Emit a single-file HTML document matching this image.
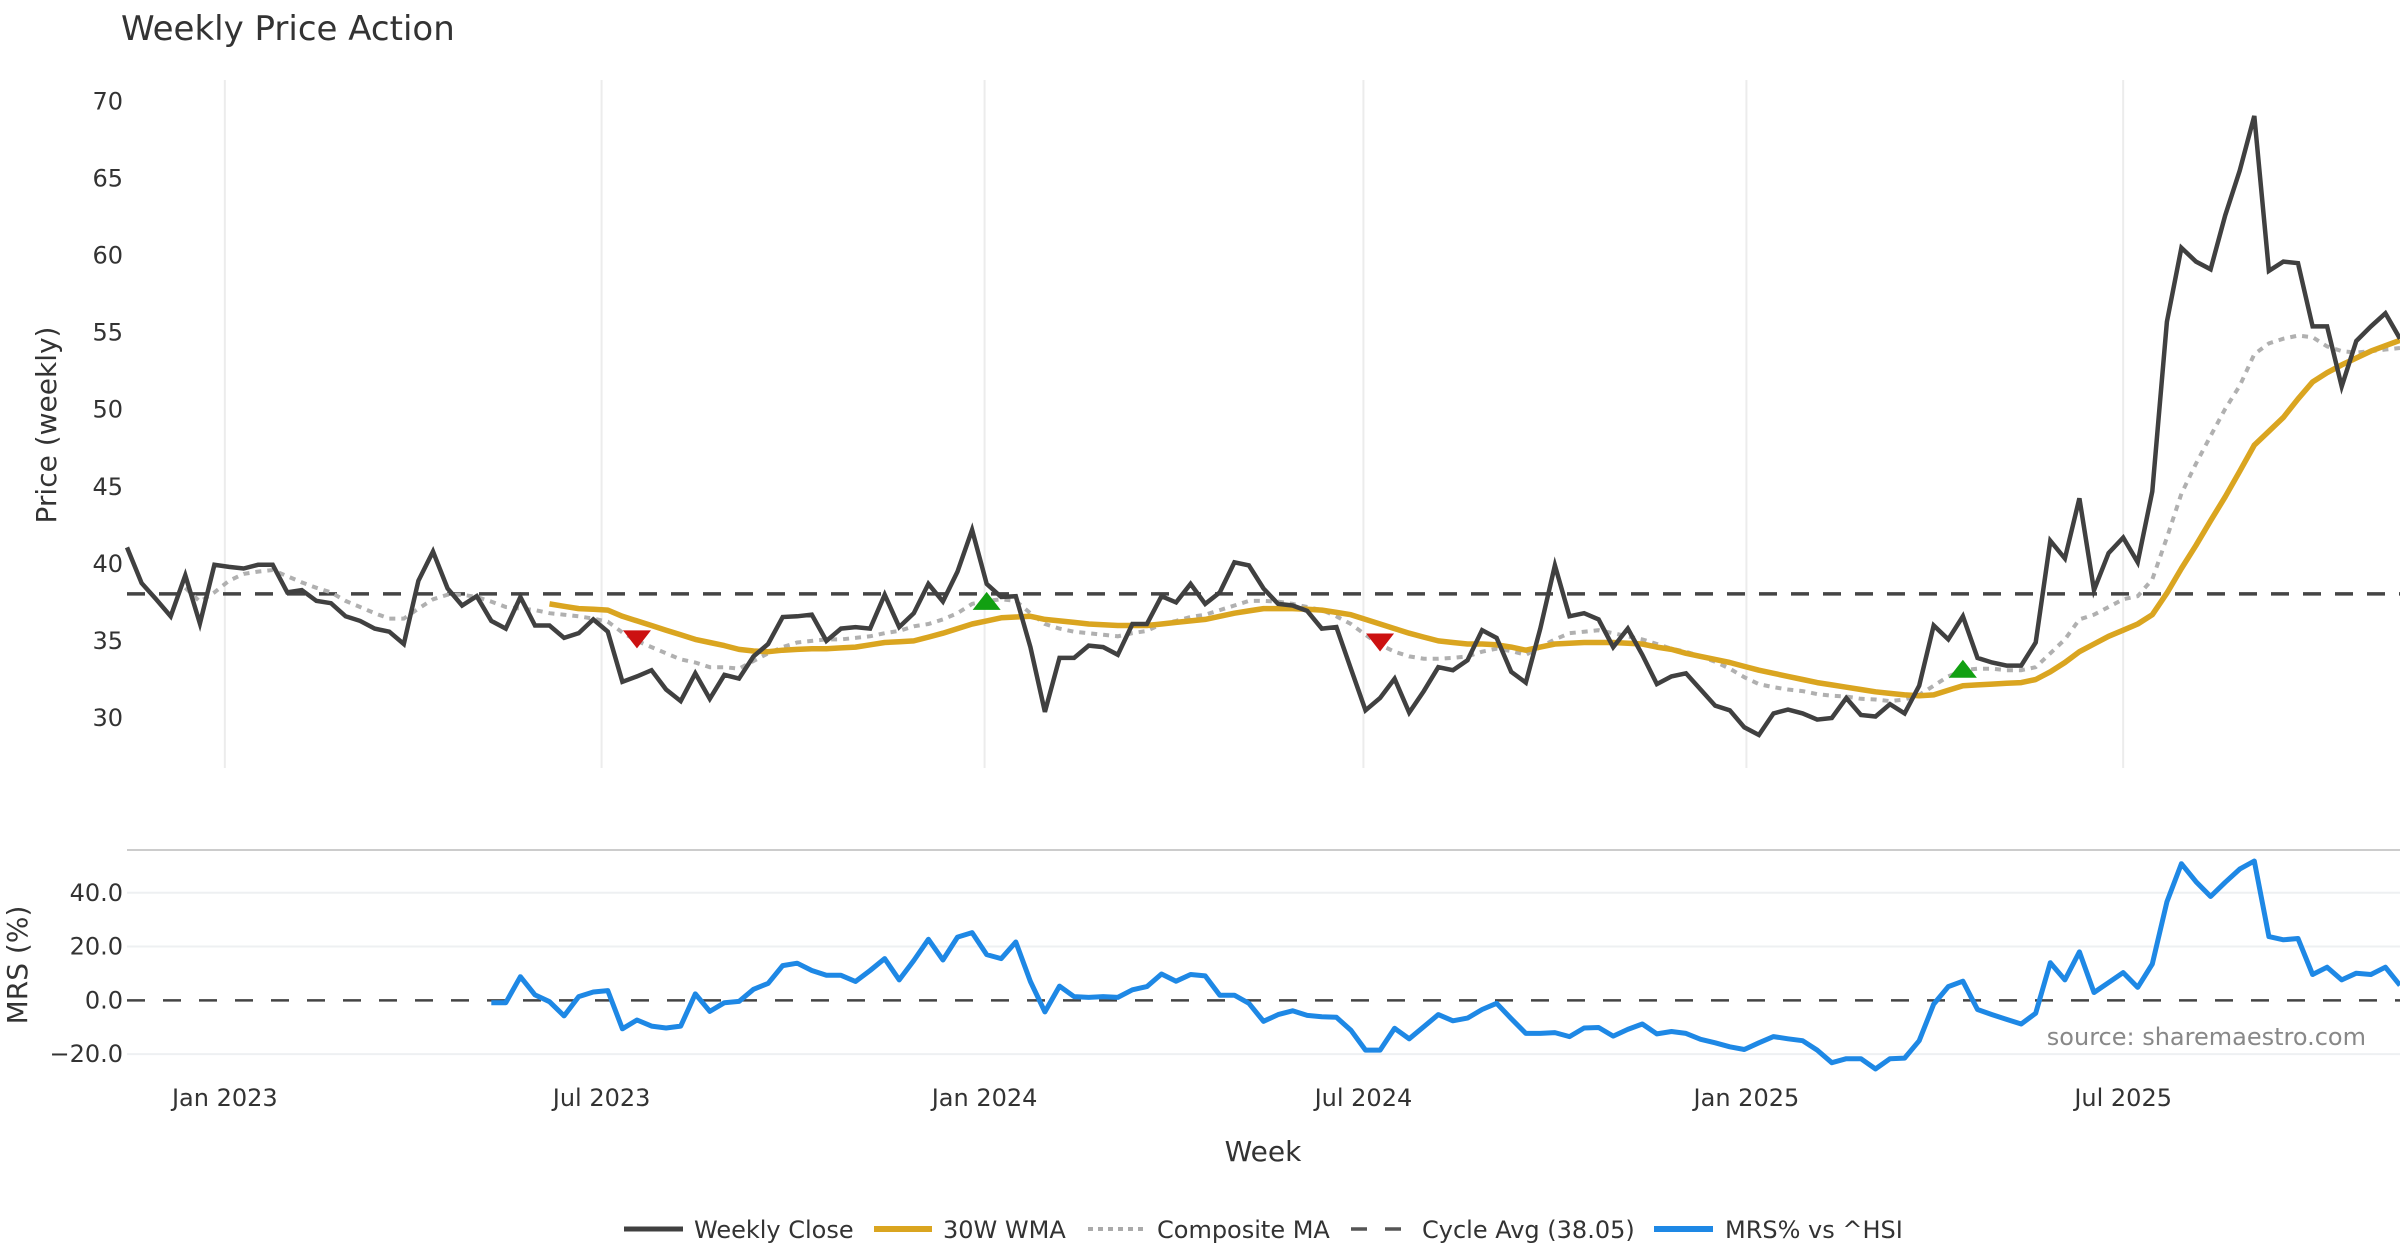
<!DOCTYPE html>
<html><head><meta charset="utf-8"><title>Weekly Price Action</title>
<style>
html,body{margin:0;padding:0;background:#fff;}
svg{display:block;font-family:"DejaVu Sans","Liberation Sans",sans-serif;}
</style></head>
<body>
<svg id="chart" width="2400" height="1260" viewBox="0 0 2400 1260" xmlns="http://www.w3.org/2000/svg">
<rect x="0" y="0" width="2400" height="1260" fill="#fff"/>
<text x="121" y="40" font-size="34" fill="#333">Weekly Price Action</text>
<g id="upper"></g>
<g id="lower"></g>
<text transform="translate(56,425) rotate(-90)" text-anchor="middle" font-size="28" fill="#333">Price (weekly)</text>
<text transform="translate(27,965) rotate(-90)" text-anchor="middle" font-size="28" fill="#333">MRS (%)</text>
<text x="1263" y="1161" text-anchor="middle" font-size="28" fill="#333">Week</text>
<text x="2366" y="1045" text-anchor="end" font-size="24" fill="#888">source: sharemaestro.com</text>
<g id="legend">
  <g>
    <line x1="624" y1="1229" x2="683" y2="1229" stroke="#404040" stroke-width="5"/>
    <text x="694" y="1238" font-size="24" fill="#333">Weekly Close</text>
  </g>
  <g>
    <line x1="874" y1="1229" x2="932" y2="1229" stroke="#DAA520" stroke-width="6"/>
    <text x="943" y="1238" font-size="24" fill="#333">30W WMA</text>
  </g>
  <g>
    <line x1="1088" y1="1229" x2="1143" y2="1229" stroke="#aaa" stroke-width="4" stroke-dasharray="5,5"/>
    <text x="1157" y="1238" font-size="24" fill="#333">Composite MA</text>
  </g>
  <g>
    <line x1="1351" y1="1229" x2="1404" y2="1229" stroke="#555" stroke-width="3.5" stroke-dasharray="16,18"/>
    <text x="1422" y="1238" font-size="24" fill="#333">Cycle Avg (38.05)</text>
  </g>
  <g>
    <line x1="1654" y1="1229" x2="1713" y2="1229" stroke="#1E88E5" stroke-width="6"/>
    <text x="1725" y="1238" font-size="24" fill="#333">MRS% vs ^HSI</text>
  </g>
</g>
</svg>
<script>
// ---- data ----
const startDate = "2022-11-15";
const closeValues = [41.07,38.75,37.7,36.6,39.26,36.13,39.94,39.8,39.7,39.94,39.94,38.15,38.3,37.6,37.45,36.6,36.3,35.8,35.6,34.8,38.9,40.8,38.4,37.3,37.9,36.3,35.8,37.85,36.0,36.0,35.2,35.5,36.4,35.6,32.35,32.7,33.1,31.85,31.1,32.9,31.25,32.8,32.56,34.0,34.8,36.55,36.6,36.7,35.0,35.8,35.9,35.8,38.0,35.9,36.8,38.7,37.56,39.5,42.2,38.7,37.85,37.9,34.6,30.4,33.9,33.9,34.7,34.6,34.1,36.1,36.1,37.9,37.5,38.7,37.4,38.15,40.1,39.9,38.4,37.4,37.3,36.95,35.8,35.9,33.2,30.5,31.3,32.55,30.35,31.75,33.3,33.1,33.75,35.7,35.2,33.0,32.3,35.8,39.9,36.6,36.8,36.4,34.6,35.8,34.1,32.2,32.7,32.9,31.85,30.8,30.5,29.4,28.9,30.3,30.55,30.3,29.9,30.0,31.3,30.2,30.1,30.9,30.3,32.1,36.0,35.1,36.6,33.9,33.6,33.4,33.4,34.9,41.5,40.35,44.25,38.3,40.7,41.7,40.1,44.7,55.7,60.5,59.6,59.1,62.6,65.5,69.05,59.0,59.6,59.5,55.4,55.4,51.5,54.45,55.4,56.25,54.6];
const wmaStart = 29;
const wmaValues = [37.4,37.25,37.1,37.05,37.0,36.6,36.3,36.0,35.7,35.4,35.1,34.9,34.7,34.45,34.35,34.3,34.4,34.45,34.5,34.5,34.55,34.6,34.75,34.9,34.95,35.0,35.25,35.5,35.8,36.1,36.3,36.5,36.55,36.6,36.4,36.3,36.2,36.1,36.05,36.0,36.0,36.0,36.1,36.2,36.3,36.4,36.6,36.8,36.95,37.1,37.1,37.1,37.05,37.0,36.85,36.7,36.4,36.1,35.8,35.5,35.25,35.0,34.9,34.8,34.8,34.75,34.6,34.4,34.6,34.8,34.85,34.9,34.9,34.9,34.85,34.8,34.6,34.45,34.2,34.0,33.8,33.6,33.35,33.1,32.9,32.7,32.5,32.3,32.15,32.0,31.85,31.7,31.6,31.5,31.45,31.5,31.8,32.1,32.15,32.2,32.25,32.3,32.5,33.0,33.6,34.3,34.8,35.3,35.7,36.1,36.7,38.1,39.7,41.2,42.8,44.35,46.0,47.7,48.6,49.5,50.7,51.8,52.4,52.9,53.35,53.8,54.15,54.5];
const compStart = 4;
const compValues = [38.45,37.55,38.15,38.9,39.35,39.5,39.6,39.2,38.8,38.45,38.15,37.6,37.2,36.8,36.45,36.45,37.1,37.7,38.0,38.0,37.85,37.55,37.2,37.1,37.0,36.8,36.7,36.6,36.45,36.25,35.55,35.0,34.6,34.2,33.8,33.6,33.3,33.3,33.2,33.7,34.2,34.6,34.9,35.0,35.1,35.1,35.2,35.3,35.5,35.65,35.95,36.1,36.4,36.8,37.4,37.6,37.7,37.6,36.8,36.1,35.8,35.6,35.5,35.4,35.3,35.5,35.65,36.1,36.3,36.55,36.7,37.0,37.3,37.6,37.6,37.55,37.4,37.2,37.0,36.6,36.1,35.4,34.75,34.3,34.0,33.85,33.85,33.9,34.0,34.3,34.5,34.35,34.1,34.6,35.1,35.5,35.6,35.7,35.5,35.3,35.1,34.8,34.5,34.3,34.0,33.65,33.2,32.65,32.2,32.0,31.85,31.75,31.55,31.45,31.4,31.25,31.2,31.1,31.2,31.5,32.1,32.7,33.1,33.2,33.2,33.1,33.1,33.3,34.2,35.1,36.4,36.7,37.2,37.7,37.9,39.0,41.7,44.55,46.5,48.3,50.05,51.55,53.6,54.3,54.6,54.8,54.7,54.1,53.8,53.7,53.8,53.9,54.0];
const cycleAvg = 38.05;
const mrsStart = 25;
const mrsValues = [-0.9,-0.9,8.8,2.0,-0.5,-5.8,1.4,3.1,3.6,-10.6,-7.3,-9.6,-10.3,-9.6,2.4,-4.1,-0.9,-0.4,4.1,6.3,12.9,13.8,11.1,9.3,9.3,7.0,11.1,15.5,7.6,14.8,22.7,15.0,23.5,25.2,17.0,15.5,21.7,7.0,-4.3,5.3,1.4,1.1,1.4,1.1,3.9,5.1,9.8,7.1,9.6,9.1,1.9,1.9,-1.1,-7.8,-5.3,-3.9,-5.6,-6.1,-6.3,-11.1,-18.5,-18.5,-10.4,-14.3,-9.8,-5.3,-7.6,-6.6,-3.4,-1.1,-6.8,-12.3,-12.3,-12.0,-13.5,-10.3,-10.1,-13.3,-10.8,-8.8,-12.5,-11.6,-12.3,-14.5,-15.8,-17.3,-18.3,-15.8,-13.5,-14.3,-15.0,-18.5,-23.2,-21.7,-21.7,-25.5,-21.7,-21.5,-15.0,-1.4,5.1,7.1,-3.4,-5.3,-7.1,-8.8,-4.8,14.0,7.6,18.0,2.9,6.6,10.3,4.8,13.5,36.6,50.8,44.1,38.6,43.9,48.8,51.8,23.7,22.5,23.0,9.6,12.3,7.6,10.1,9.6,12.3,5.6];
const signalWeeks = [35,59,86,126];
const signalTypes = ["sell","buy","sell","buy"];
const signalValues = [35.1,37.6,34.9,33.2];
const priceTicks = [30,35,40,45,50,55,60,65,70];
const mrsTicks = [-20,0,20,40];
const mrsTickLabels = ["\u221220.0","0.0","20.0","40.0"];
const dateTicks = ["2023-01-01","2023-07-01","2024-01-01","2024-07-01","2025-01-01","2025-07-01"];
const dateTickLabels = ["Jan 2023","Jul 2023","Jan 2024","Jul 2024","Jan 2025","Jul 2025"];

// ---- layout / scales ----
const NS = "http://www.w3.org/2000/svg";
const X0 = 127, X1 = 2400;
const N = closeValues.length;
const step = (X1 - X0) / (N - 1);
function xOf(i){ return X0 + step * i; }
function xDate(d){ const days = (new Date(d) - new Date(startDate)) / 86400000; return xOf(days / 7); }
const UP_TOP = 80, UP_BOT = 768, P_MIN = 26.76, P_MAX = 71.38;
function yP(v){ return UP_BOT - (v - P_MIN) / (P_MAX - P_MIN) * (UP_BOT - UP_TOP); }
const LO_TOP = 850, LO_BOT = 1081, M_MIN = -30, M_MAX = 55.9;
function yM(v){ return LO_BOT - (v - M_MIN) / (M_MAX - M_MIN) * (LO_BOT - LO_TOP); }

function mk(tag, attrs, parent){
  const el = document.createElementNS(NS, tag);
  for (const k in attrs) el.setAttribute(k, attrs[k]);
  parent.appendChild(el);
  return el;
}
const up = document.getElementById("upper");
const lo = document.getElementById("lower");

// upper grid (vertical date lines)
dateTicks.forEach(function(d, k){
  const x = xDate(d);
  const g = mk("line", {x1:x, y1:UP_TOP, x2:x, y2:UP_BOT, stroke:"#ececec", "stroke-width":2}, up);
  
  
  const t = mk("text", {x:x, y:1106, "text-anchor":"middle", "font-size":24, fill:"#333"}, lo);
  t.textContent = dateTickLabels[k];
  
  
});
// price ticks
priceTicks.forEach(function(v){
  const t = mk("text", {x:123, y:yP(v) + 8, "text-anchor":"end", "font-size":24, fill:"#333"}, up);
  t.textContent = String(v);
  
  
});
// cycle avg line
const cyc = mk("line", {x1:X0, y1:yP(cycleAvg), x2:X1, y2:yP(cycleAvg), stroke:"#444", "stroke-width":3.5, "stroke-dasharray":"18,14"}, up);



function pathFrom(vals, start, yf){
  let d = "";
  vals.forEach(function(v, j){ d += (j ? "L" : "M") + xOf(start + j).toFixed(1) + "," + yf(v).toFixed(1); });
  return d;
}
const comp = mk("path", {d:pathFrom(compValues, compStart, yP), fill:"none", stroke:"#b0b0b0", "stroke-width":4, "stroke-dasharray":"6,6"}, up);


const wma = mk("path", {d:pathFrom(wmaValues, wmaStart, yP), fill:"none", stroke:"#DAA520", "stroke-width":5.5, "stroke-linejoin":"round"}, up);


const close = mk("path", {d:pathFrom(closeValues, 0, yP), fill:"none", stroke:"#404040", "stroke-width":4.5, "stroke-linejoin":"miter"}, up);



signalWeeks.forEach(function(w, k){
  const x = xOf(w), y = yP(signalValues[k]);
  const pts = signalTypes[k] === "buy"
    ? (x-14)+","+(y+9)+" "+(x+14)+","+(y+9)+" "+x+","+(y-9)
    : (x-14)+","+(y-9)+" "+(x+14)+","+(y-9)+" "+x+","+(y+9);
  const m = mk("polygon", {points:pts, fill: signalTypes[k] === "buy" ? "#12A012" : "#CC1111"}, up);
  
  
});

// lower panel
const topLine = mk("line", {x1:X0, y1:LO_TOP, x2:X1, y2:LO_TOP, stroke:"#cccccc", "stroke-width":2}, lo);


mrsTicks.forEach(function(v, k){
  const y = yM(v);
  if (v !== 0) {
    const g = mk("line", {x1:X0, y1:y, x2:X1, y2:y, stroke:"#eef0f2", "stroke-width":2}, lo);
    
    
  }
  const t = mk("text", {x:123, y:y + 8, "text-anchor":"end", "font-size":24, fill:"#333"}, lo);
  t.textContent = mrsTickLabels[k];
  
  
});
const zero = mk("line", {x1:X0, y1:yM(0), x2:X1, y2:yM(0), stroke:"#444", "stroke-width":2.5, "stroke-dasharray":"18,18"}, lo);


const mrs = mk("path", {d:pathFrom(mrsValues, mrsStart, yM), fill:"none", stroke:"#1E88E5", "stroke-width":5, "stroke-linejoin":"round"}, lo);


</script>
</body></html>
